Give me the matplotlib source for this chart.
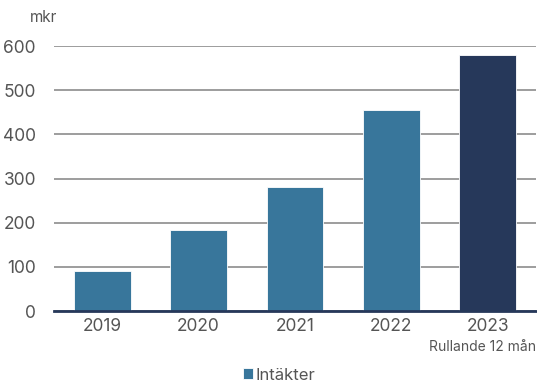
import matplotlib
matplotlib.use("Agg")
import matplotlib.pyplot as plt

plt.rcParams['font.family'] = ['Inter', 'DejaVu Sans']

years = ["2019", "2020", "2021", "2022", "2023"]
revenue = [90, 183, 280, 455, 580]
series_name = "Intäkter"
colors = ["#38769B", "#38769B", "#38769B", "#38769B", "#26385A"]

fig = plt.figure(figsize=(5.37, 3.81), dpi=100)
ax = fig.add_axes([54/537, 70/381, 482/537, (311-46)/381])

x = list(range(len(years)))
bars = ax.bar(x, revenue, width=0.59, color=colors, edgecolor="white", linewidth=0.6, zorder=3)

ax.set_xlim(-0.5, 4.5)
ax.set_ylim(0, 600)
ax.set_yticks([0, 100, 200, 300, 400, 500, 600])
ax.yaxis.grid(True, color="#8C8C8C", linewidth=1.2, zorder=0)
ax.set_axisbelow(True)
for s in ["top", "right", "left"]:
    ax.spines[s].set_visible(False)
ax.spines["bottom"].set_color("#26385A")
ax.spines["bottom"].set_linewidth(2)
ax.spines["bottom"].set_zorder(4)
ax.set_xticks(x)
ax.set_xticklabels(years)
ax.tick_params(axis="both", length=0, labelsize=12.5, colors="#555555", pad=5)
ax.tick_params(axis="y", pad=13)

fig.text(30/537, 1 - 18/381, "mkr", fontsize=11, color="#555555", va="center", ha="left")
fig.text(536/537, 1 - 347/381, "Rullande 12 mån", fontsize=10, color="#555555", va="center", ha="right")

ax.legend([bars[0]], [series_name], loc="center", bbox_to_anchor=(0.52, 1 - 375/381),
          bbox_transform=fig.transFigure, frameon=False, fontsize=12,
          handlelength=0.6, handleheight=0.6, handletextpad=0.15, labelcolor="#555555")

fig.savefig("out.png", dpi=100)
